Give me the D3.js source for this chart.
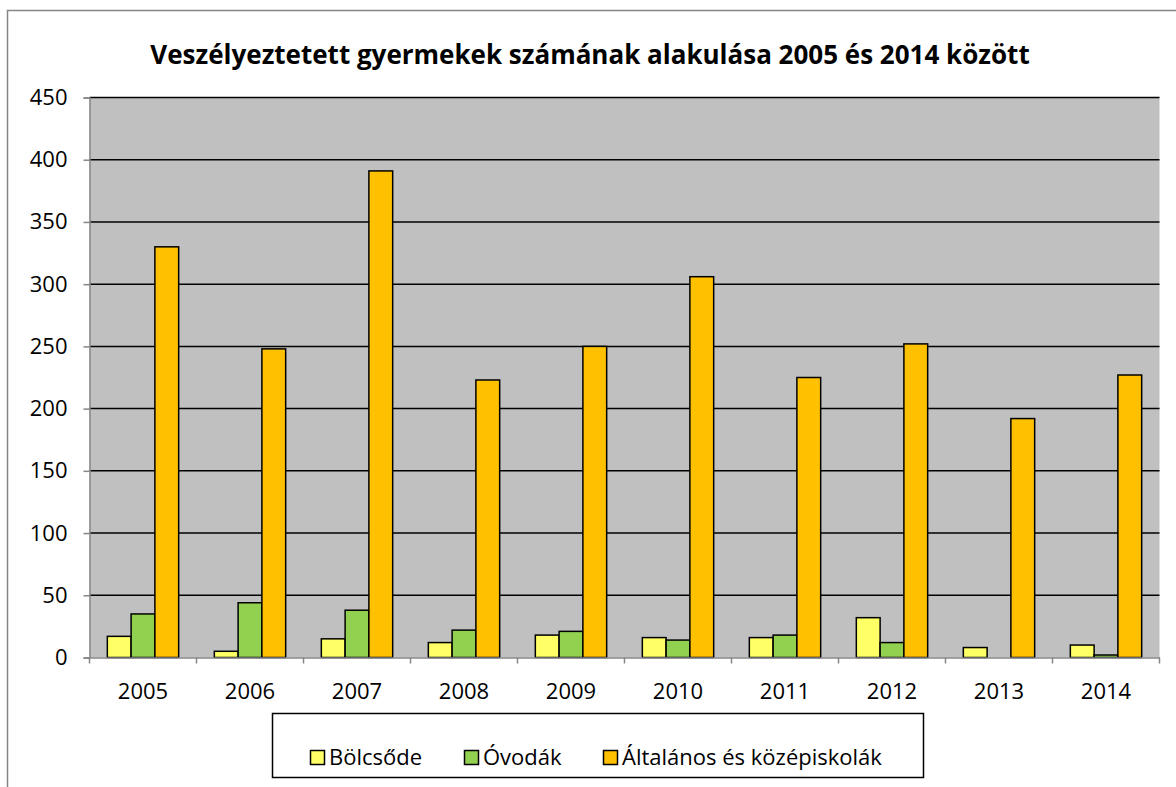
<!DOCTYPE html>
<html>
<head>
<meta charset="utf-8">
<script src="https://cdn.jsdelivr.net/npm/d3@7"></script>
<style>
  body { margin: 0; background: #fff; }
  text { font-family: "Open Sans", sans-serif; }
</style>
</head>
<body>
<script>
// data
var years = ["2005", "2006", "2007", "2008", "2009", "2010", "2011", "2012", "2013", "2014"];
var seriesNames = ["Bölcsőde", "Óvodák", "Általános és középiskolák"];
var bolcsode = [17, 5, 15, 12, 18, 16, 16, 32, 8, 10];
var ovodak = [35, 44, 38, 22, 21, 14, 18, 12, 0, 2];
var iskolak = [330, 248, 391, 223, 250, 306, 225, 252, 192, 227];
var yTicks = [0, 50, 100, 150, 200, 250, 300, 350, 400, 450];
var colors = ["#FFFF66", "#92D050", "#FFC000"];

var width = 1176;
var height = 787;

// plot area (note: "top" is taken by window.top, so use other names)
var plotLeft = 89.5, plotRight = 1159.5, plotTop = 97.5, plotBottom = 657.5;

var svg = d3.select("body").append("svg")
    .attr("width", width)
    .attr("height", height);

// outer chart border
svg.append("rect")
    .attr("x", 7.5).attr("y", 10.5)
    .attr("width", width + 20).attr("height", height + 20)
    .attr("fill", "#fff")
    .attr("stroke", "#868686")
    .attr("stroke-width", 1.5);

var x = d3.scaleBand().domain(years).range([plotLeft, plotRight]).paddingInner(0).paddingOuter(0);
var y = d3.scaleLinear().domain([0, 450]).range([plotBottom, plotTop]);

// gap width 150% like excel
var inner = d3.scaleBand().domain(d3.range(3))
    .range([0, x.bandwidth()])
    .paddingInner(0)
    .paddingOuter(0.75);

// plot background
svg.append("rect")
    .attr("x", plotLeft).attr("y", plotTop)
    .attr("width", plotRight - plotLeft).attr("height", plotBottom - plotTop)
    .attr("fill", "#C0C0C0");

// gridlines
svg.append("g")
    .selectAll("line")
    .data(yTicks.slice(1))
    .enter().append("line")
        .attr("x1", plotLeft).attr("x2", plotRight)
        .attr("y1", function(d) { return y(d); })
        .attr("y2", function(d) { return y(d); })
        .attr("stroke", "#000")
        .attr("stroke-width", 1.5);

// bars
var rows = years.map(function(yr, i) { return [bolcsode[i], ovodak[i], iskolak[i]]; });

var group = svg.append("g")
    .selectAll("g")
    .data(rows)
    .enter().append("g")
        .attr("transform", function(d, i) { return "translate(" + x(years[i]) + ",0)"; });

group.selectAll("rect")
    .data(function(d) { return d; })
    .enter().append("rect")
        .attr("x", function(d, j) { return inner(j); })
        .attr("width", inner.bandwidth())
        .attr("y", function(d) { return y(d); })
        .attr("height", function(d) { return plotBottom - y(d); })
        .attr("fill", function(d, j) { return colors[j]; })
        .attr("stroke", function(d) { return d > 0 ? "#000" : "none"; })
        .attr("stroke-width", 1.5);

// y axis
var yAxis = svg.append("g")
    .attr("transform", "translate(" + plotLeft + ",0)")
    .call(d3.axisLeft(y).tickValues(yTicks).tickSize(6).tickPadding(16));
yAxis.select(".domain").attr("stroke", "#868686").attr("stroke-width", 1.5);
yAxis.selectAll(".tick line").attr("stroke", "#868686").attr("stroke-width", 1.5);
yAxis.selectAll("text").attr("font-size", 22).attr("fill", "#000")
    .style("font-family", "'Open Sans', sans-serif");

// x axis
var xAxis = svg.append("g")
    .attr("transform", "translate(0," + plotBottom + ")")
    .call(d3.axisBottom(x).tickSize(0).tickPadding(26));
xAxis.select(".domain").attr("stroke", "#868686").attr("stroke-width", 1.5);
xAxis.selectAll("text").attr("font-size", 22).attr("fill", "#000")
    .style("font-family", "'Open Sans', sans-serif");

// category boundary ticks
svg.append("g")
    .selectAll("line")
    .data(years.concat(["end"]))
    .enter().append("line")
        .attr("x1", function(d, i) { return i < years.length ? x(d) : plotRight; })
        .attr("x2", function(d, i) { return i < years.length ? x(d) : plotRight; })
        .attr("y1", plotBottom).attr("y2", plotBottom + 6)
        .attr("stroke", "#868686")
        .attr("stroke-width", 1.5);

// title
svg.append("text")
    .attr("x", 590).attr("y", 64)
    .attr("text-anchor", "middle")
    .attr("font-size", 26)
    .attr("font-weight", "bold")
    .text("Veszélyeztetett gyermekek számának alakulása 2005 és 2014 között");

// legend
var legend = svg.append("g");
legend.append("rect")
    .attr("x", 272.5).attr("y", 713.5)
    .attr("width", 651).attr("height", 64)
    .attr("fill", "#fff")
    .attr("stroke", "#000")
    .attr("stroke-width", 1.5);

var legendX = [310, 464, 603];
var item = legend.selectAll("g.item")
    .data(seriesNames)
    .enter().append("g")
        .attr("class", "item")
        .attr("transform", function(d, i) { return "translate(" + legendX[i] + ",745)"; });

item.append("rect")
    .attr("x", 0.5).attr("y", 5.5)
    .attr("width", 14).attr("height", 14)
    .attr("fill", function(d, i) { return colors[i]; })
    .attr("stroke", "#000")
    .attr("stroke-width", 1.5);

item.append("text")
    .attr("x", 19).attr("y", 20)
    .attr("font-size", 22)
    .text(function(d) { return d; });
</script>
</body>
</html>
